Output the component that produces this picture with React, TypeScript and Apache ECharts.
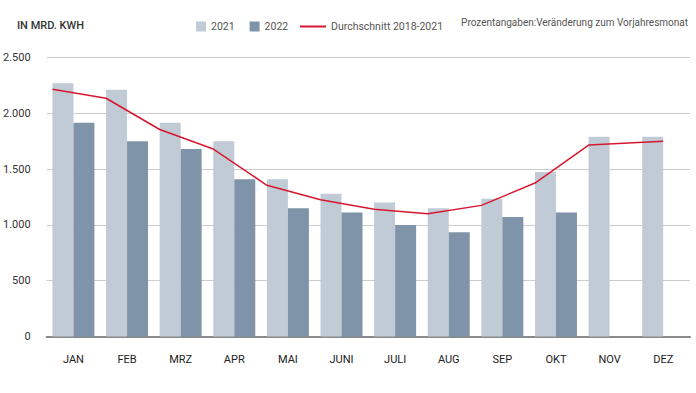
import React, { useEffect, useRef } from "react";
import * as echarts from "echarts";

const months = ["JAN", "FEB", "MRZ", "APR", "MAI", "JUNI", "JULI", "AUG", "SEP", "OKT", "NOV", "DEZ"];
const values2021 = [2270, 2210, 1915, 1750, 1410, 1280, 1200, 1150, 1235, 1475, 1790, 1790];
const values2022 = [1915, 1750, 1680, 1410, 1150, 1110, 1000, 935, 1070, 1110];
const average = [2215, 2135, 1855, 1680, 1355, 1225, 1140, 1100, 1175, 1375, 1715, 1750];
const yTicks = { min: 0, max: 2500, interval: 500 };
const title = "IN MRD. KWH";
const note = "Prozentangaben:Veränderung zum Vorjahresmonat";
const seriesNames = ["2021", "2022", "Durchschnitt 2018-2021"];

const W = 696;
const H = 393;
const GRID_LEFT = 45;
const GRID_RIGHT = 6;
const BAR_W = 21;
const FONT = "Roboto, 'Noto Sans', sans-serif";
const SMALL = 10.5;

export default function App() {
  const ref = useRef<HTMLDivElement>(null);
  useEffect(() => {
    if (!ref.current) return;
    const chart = echarts.init(ref.current, undefined, { renderer: "svg" });
    const band = (W - GRID_LEFT - GRID_RIGHT) / months.length;
    const shift = BAR_W / band;
    const lineData = average.map((v, i) => [i === average.length - 1 ? i : i - shift, v]);
    chart.setOption({
      animation: false,
      textStyle: { fontFamily: FONT },
      title: {
        text: title,
        left: 12,
        top: 15,
        textStyle: { fontSize: 11, fontWeight: 500, color: "#333", fontFamily: FONT },
      },
      legend: [
        {
          data: [seriesNames[0], seriesNames[1]],
          left: 191,
          top: 16,
          icon: "rect",
          itemWidth: 10,
          itemHeight: 10,
          itemGap: 15,
          textStyle: { fontSize: SMALL, color: "#555", fontFamily: FONT },
        },
        {
          data: [seriesNames[2]],
          left: 295,
          top: 16,
          icon: "rect",
          itemWidth: 26,
          itemHeight: 2,
          textStyle: { fontSize: SMALL, color: "#555", fontFamily: FONT },
        },
      ],
      graphic: [
        {
          type: "text",
          right: 8,
          top: 17,
          style: { text: note, fontSize: 10, fill: "#555", fontFamily: FONT },
        },
      ],
      grid: { left: GRID_LEFT, right: GRID_RIGHT, top: 57.5, bottom: 56.5 },
      xAxis: [
        {
          type: "category",
          data: months,
          axisLine: { lineStyle: { color: "#8a8a8a", width: 2 } },
          axisTick: { show: false },
          axisLabel: { color: "#222", fontSize: 11, margin: 17 },
        },
        {
          type: "value",
          min: -0.5,
          max: months.length - 0.5,
          show: false,
        },
      ],
      yAxis: {
        type: "value",
        min: yTicks.min,
        max: yTicks.max,
        interval: yTicks.interval,
        axisLine: { show: false },
        axisTick: { show: false },
        splitLine: { lineStyle: { color: "#cccccc", width: 1 } },
        axisLabel: {
          color: "#333",
          fontSize: 11,
          margin: 16,
          formatter: (v: number) => v.toLocaleString("de-DE"),
        },
      },
      series: [
        {
          name: seriesNames[0],
          type: "bar",
          data: values2021,
          barWidth: BAR_W,
          barGap: "0%",
          itemStyle: { color: "#c1cbd5" },
        },
        {
          name: seriesNames[1],
          type: "bar",
          data: values2022,
          barWidth: BAR_W,
          barGap: "0%",
          itemStyle: { color: "#8094a9" },
        },
        {
          name: seriesNames[2],
          type: "line",
          xAxisIndex: 1,
          data: lineData,
          symbol: "none",
          z: 5,
          lineStyle: { color: "#d7172f", width: 1.5 },
          itemStyle: { color: "#d7172f" },
        },
      ],
    });
    return () => chart.dispose();
  }, []);
  return (
    <div
      ref={ref}
      style={{ position: "fixed", left: 0, top: 0, width: W, height: H, background: "#fff" }}
    />
  );
}
